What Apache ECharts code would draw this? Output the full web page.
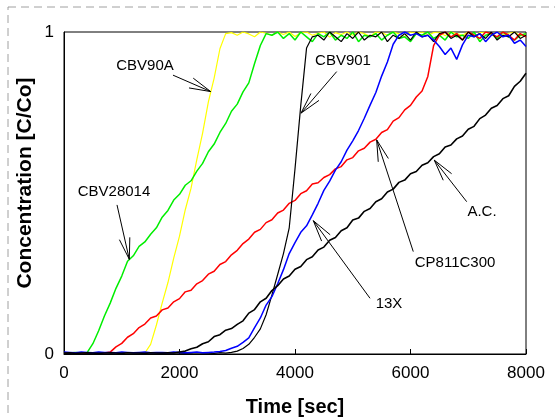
<!DOCTYPE html>
<html><head><meta charset="utf-8">
<script src="https://cdn.jsdelivr.net/npm/echarts@6.0.0/dist/echarts.min.js"></script>
<style>html,body{margin:0;padding:0;background:#fff}#c{width:555px;height:418px}</style>
</head><body><div id="c"></div><script>
// Time [sec]
const time = [0,100,200,300,400,500,600,700,800,900,1000,1100,1200,1300,1400,1500,1600,1700,1800,1900,
2000,2100,2200,2300,2400,2500,2600,2700,2800,2900,3000,3100,3200,3300,3400,3500,3600,3700,3800,3900,
4000,4100,4200,4300,4400,4500,4600,4700,4800,4900,5000,5100,5200,5300,5400,5500,5600,5700,5800,5900,
6000,6100,6200,6300,6400,6500,6600,6700,6800,6900,7000,7100,7200,7300,7400,7500,7600,7700,7800,7900,8000];

const xTicks = [0,2000,4000,6000,8000];
const yTicks = [0,1];

const cbv90a = [0.003,0.004,0.002,0.003,0.004,0.003,0.002,0.004,0.003,0.003,0.004,0.002,0.003,0.004,0.003,
0.03,0.09,0.158,0.222,0.298,0.366,0.448,0.515,0.604,0.686,0.783,0.857,0.948,0.995,
0.998,0.99,1,0.994,0.985,1,0.996,0.99,1,0.992,
1,0.986,0.998,1,0.99,0.996,1,0.984,0.998,0.992,
1,0.99,1,0.995,0.986,1,0.998,0.99,1,0.994,
0.985,1,0.996,1,0.99,0.998,1,0.988,1,0.995,
0.99,1,0.984,0.998,1,0.992,1,0.99,0.996,1,
0.988,0.995];

const cbv28014 = [0.004,0.003,0.005,0.003,0.004,
0.032,0.072,0.118,0.158,0.204,0.242,0.288,0.305,0.334,0.348,0.372,0.392,0.425,0.446,0.478,0.496,
0.524,0.538,0.568,0.592,0.628,0.652,0.688,0.716,0.754,0.776,0.814,0.842,0.902,0.958,0.995,
0.99,1,0.98,0.995,0.975,1,0.985,0.97,0.995,0.985,
1,0.975,0.99,0.98,1,0.97,0.99,0.985,0.995,0.975,
0.99,1,0.98,0.985,0.97,0.995,0.99,1,0.98,0.99,
0.975,1,0.985,0.99,0.98,1,0.97,0.99,0.995,0.98,
1,0.985,0.975,0.99,0.995];

const cp811c300 = [0.003,0.002,0.004,0.003,0.002,0.004,0.003,0.003,
0.006,0.022,0.033,0.052,0.063,0.082,0.093,0.112,0.118,0.137,0.143,0.162,0.172,0.193,0.198,0.218,0.228,
0.248,0.257,0.278,0.287,0.308,0.322,0.343,0.357,0.378,0.387,0.408,0.417,0.438,0.447,0.468,0.477,
0.498,0.507,0.528,0.532,0.548,0.557,0.575,0.582,0.603,0.61,0.631,0.639,0.658,0.667,0.688,0.697,
0.723,0.734,0.758,0.772,0.798,0.817,0.862,0.958,0.99,
1,0.985,0.995,0.975,1,0.99,0.98,1,0.995,0.985,1,0.99,0.975,0.995,0.985];

const x13 = [0.006,0.005,0.004,0.006,0.005,0.004,0.006,0.005,0.005,0.004,0.006,0.005,0.004,0.005,0.006,
0.004,0.005,0.005,0.004,0.006,0.005,0.004,0.005,0.006,0.004,0.005,0.006,
0.008,0.011,0.018,0.024,0.036,0.05,0.082,0.112,0.152,0.178,0.218,0.262,0.312,0.346,0.378,0.398,
0.432,0.468,0.508,0.537,0.571,0.597,0.633,0.662,0.694,0.732,0.773,0.812,0.863,0.907,0.962,0.99,
1,0.99,0.995,0.985,0.99,0.975,0.955,0.93,0.95,0.915,0.96,0.99,0.985,0.995,0.97,0.99,1,0.985,0.99,0.965,0.975,0.955];

const cbv901 = [0.003,0.002,0.003,0.004,0.003,0.002,0.003,0.004,0.003,0.003,0.002,0.004,0.003,0.003,0.002,
0.004,0.003,0.002,0.003,0.004,0.003,0.002,0.003,0.004,0.003,0.003,0.002,0.004,0.003,
0.005,0.009,0.017,0.03,0.052,0.078,0.122,0.183,0.247,0.312,0.392,0.575,0.772,0.95,0.985,
0.99,0.975,1,0.985,0.97,0.995,0.98,1,0.975,0.99,
0.985,1,0.97,0.99,0.98,0.995,0.975,1,0.985,0.99,
0.97,0.995,1,0.98,0.99,0.975,1,0.985,0.995,0.98,
1,0.975,0.99,0.985,1,0.98,0.99];

const ac = [0.003,0.004,0.002,0.003,0.004,0.003,0.002,0.003,0.004,0.003,0.002,0.004,0.003,0.003,0.002,
0.004,0.003,0.003,0.004,0.003,
0.006,0.009,0.016,0.021,0.032,0.038,0.054,0.06,0.074,0.079,0.092,0.103,0.127,0.138,0.162,0.173,
0.197,0.212,0.233,0.242,0.263,0.272,0.293,0.302,0.323,0.332,0.353,0.362,0.383,0.392,0.416,0.422,
0.443,0.452,0.473,0.482,0.503,0.512,0.533,0.54,0.56,0.567,0.586,0.594,0.613,0.622,0.643,0.649,
0.668,0.677,0.698,0.707,0.731,0.742,0.763,0.772,0.793,0.802,0.831,0.847,0.872];

// annotations: label, label position [t, c], shaft start [t, c], arrow tip [t, c]
const annLabels = ['CBV90A','CBV28014','CBV901','CP811C300','A.C.','13X'];
const annText   = [[1403,0.894],[866,0.503],[4831,0.91],[6771,0.283],[7238,0.441],[5628,0.155]];
const annStart  = [[1887,0.866],[918,0.463],[4722,0.877],[6048,0.318],[6973,0.473],[5299,0.173]];
const annTip    = [[2540,0.815],[1131,0.294],[4104,0.748],[5414,0.665],[6412,0.602],[4317,0.414]];

const FONT = '"Liberation Sans", Arial, sans-serif';
const zip = v => time.map((t,i)=>[t,v[i]]);

const chart = echarts.init(document.getElementById('c'), null, {renderer:'canvas'});
function mk(name, data, color, w){
  return {name, type:'line', data:zip(data), showSymbol:false, symbol:'none', animation:false,
    lineStyle:{color, width:w}, itemStyle:{color}, sampling:null};
}
chart.setOption({
  animation:false,
  backgroundColor:'#fff',
  grid:{left:64, top:32, width:462, height:322, show:true, borderColor:'#000', borderWidth:1, containLabel:false},
  xAxis:{type:'value', min:xTicks[0], max:xTicks[xTicks.length-1], interval:xTicks[1]-xTicks[0],
    axisLine:{show:true, lineStyle:{color:'#000', width:1}},
    axisTick:{show:true, inside:true, length:5, lineStyle:{color:'#000'}},
    axisLabel:{fontSize:17, color:'#000', margin:11, fontFamily:FONT, formatter:v=>String(v)},
    splitLine:{show:false}},
  yAxis:{type:'value', min:yTicks[0], max:yTicks[1], interval:1,
    axisLine:{show:true, lineStyle:{color:'#000', width:1}},
    axisTick:{show:false},
    axisLabel:{fontSize:17, color:'#000', margin:10, fontFamily:FONT, formatter:v=>String(v)},
    splitLine:{show:false}},
  series:[
    mk('CBV90A', cbv90a, '#ffff00', 1.2),
    mk('CBV28014', cbv28014, '#00ee00', 1.5),
    mk('CP811C300', cp811c300, '#ff0000', 1.5),
    mk('CBV901', cbv901, '#000000', 1.2),
    mk('13X', x13, '#0000ff', 1.5),
    mk('A.C.', ac, '#000000', 1.6)
  ]
});

const g = [];
// dashed outer frame
g.push({type:'rect', shape:{x:8, y:7, width:600, height:500}, style:{fill:null, stroke:'#a0a0a0', lineWidth:1, lineDash:[8,5]}, z:0});
// axis titles
g.push({type:'text', x:295, y:407, style:{text:'Time [sec]', font:'bold 20px '+FONT, fill:'#000', align:'center', verticalAlign:'middle', textAlign:'center', textVerticalAlign:'middle'}});
g.push({type:'text', x:25, y:183, rotation:Math.PI/2, style:{text:'Concentration [C/Co]', font:'bold 21px '+FONT, fill:'#000', align:'center', verticalAlign:'middle', textAlign:'center', textVerticalAlign:'middle'}});
const HL = 22, HA = 14*Math.PI/180;
annLabels.forEach((lab,i)=>{
  const p = chart.convertToPixel({gridIndex:0}, annText[i]);
  const s = chart.convertToPixel({gridIndex:0}, annStart[i]);
  const t = chart.convertToPixel({gridIndex:0}, annTip[i]);
  g.push({type:'text', x:p[0], y:p[1], z:20, style:{text:lab, font:'15px '+FONT, fill:'#000', align:'center', verticalAlign:'middle', textAlign:'center', textVerticalAlign:'middle'}});
  g.push({type:'line', z:20, shape:{x1:s[0], y1:s[1], x2:t[0], y2:t[1]}, style:{stroke:'#000', lineWidth:1}});
  const a = Math.atan2(s[1]-t[1], s[0]-t[0]);
  [a-HA, a+HA].forEach(b=>{
    g.push({type:'line', z:20, shape:{x1:t[0], y1:t[1], x2:t[0]+HL*Math.cos(b), y2:t[1]+HL*Math.sin(b)}, style:{stroke:'#000', lineWidth:1}});
  });
});
chart.setOption({graphic:g});
</script></body></html>
